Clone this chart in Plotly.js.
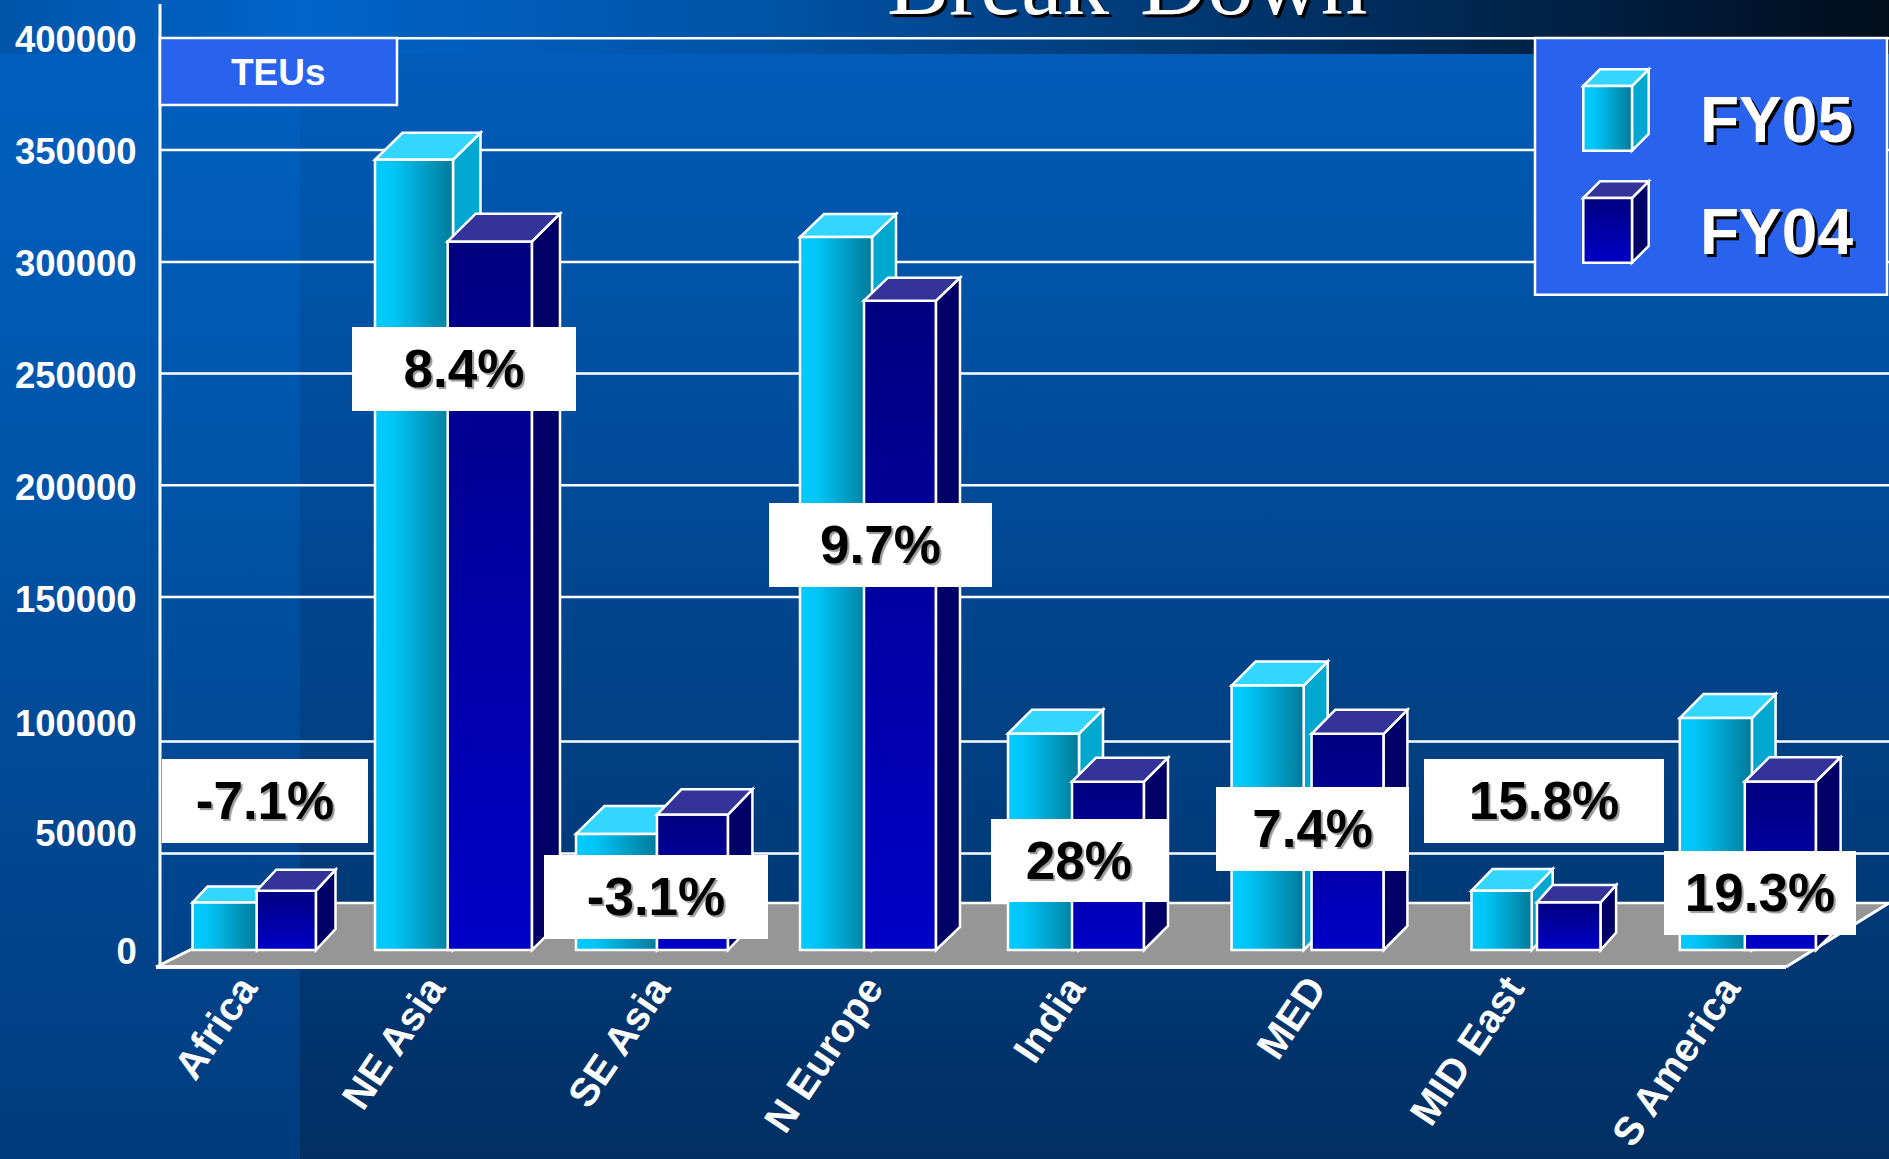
<!DOCTYPE html>
<html>
<head>
<meta charset="utf-8">
<script src="https://cdn.plot.ly/plotly-3.0.1.min.js"></script>
<style>
html,body{margin:0;padding:0;overflow:hidden;width:1889px;height:1159px;}
#bg{position:absolute;left:0;top:0;width:1889px;height:1159px;
background:
 linear-gradient(90deg,#0055aa 0px,#0064c8 300px,#0052a5 780px,#00264f 1480px,#000d1c 1889px) 0 0/1889px 54px no-repeat,
 linear-gradient(180deg,#0060c0 0px,#005ab4 300px,#004c99 700px,#003c7e 1159px) 0 0/300px 1159px no-repeat,
 linear-gradient(180deg,#005cb8 54px,#012f63 1159px);}
#chart{position:absolute;left:0;top:0;width:1889px;height:1159px;}
</style>
</head>
<body>
<div id="bg"></div>
<div id="chart"></div>
<script>
// ---- data ----
var categories = ['Africa','NE Asia','SE Asia','N Europe','India','MED','MID East','S America'];
var fy05 = [20800,346600,50900,312700,94900,116000,26000,101700];
var fy04 = [26000,310800,59400,284800,73800,94800,20900,73900];
var growth = ['-7.1%','8.4%','-3.1%','9.7%','28%','7.4%','15.8%','19.3%'];
var axisLabels = ['0','50000','100000','150000','200000','250000','300000','350000','400000'];

// ---- geometry of the picture (pixels) ----
var W=1889,H=1159,PLOT_L=150,PLOT_B=975,BASE=950,PX_PER_UNIT=912/400000;
function yv(py){return (BASE-py)/PX_PER_UNIT;}
var labelPy=[951.2,833,723.3,599,487,375.3,263.5,151.7,39];
var gridPy=[38.3,150,262,373.5,485.3,597,741.5,853.5];
var left05=[192.5,375,576,800,1008,1231.6,1471.5,1679.8];
var right05=[257,453,657,872,1079,1303.7,1531.7,1751.9];
var left04=[256.7,447.7,657,864,1072,1311.6,1537,1744.8];
var right04=[316,532,728,936,1144,1383.7,1600.7,1816];
var depth05=[[15,16],[27.5,27],[28.5,28],[24,23],[24,24],[24,24],[21,21.7],[23.7,24]];
var depth04=[[19.5,21],[28,27.7],[24.4,25.3],[24,23],[24,24],[23.7,24],[15.4,17.3],[24.6,24.3]];
var tickPx=[242,430,655,868,1070,1311,1509,1725];
var boxes=[[162,368,758,841.7],[352,576,326,409.6],[544,768,854,937.7],[768.6,991.5,502,585.5],
           [991.5,1167,818,901],[1215.8,1409,786,869.7],[1424,1664,758,841.7],[1664,1856,850,933.7]];

var C05={front:'#00ccff',side:'#00a8cf',top:'#33d6ff'};
var C04={front:'#000099',side:'#000066',top:'#333399'};
var WHITE='#ffffff',PANEL='#2962ec',FLOOR='#969696';

function poly(pts){return 'M'+pts.map(function(p){return p[0]+','+yv(p[1]);}).join('L')+'Z';}
function pathShape(pts,fill,w){return {type:'path',layer:'below',xref:'x',yref:'y',path:poly(pts),fillcolor:fill,line:{color:WHITE,width:w===undefined?2.5:w}};}
function rectShape(x0,x1,y0,y1,fill,w){return pathShape([[x0,y0],[x1,y0],[x1,y1],[x0,y1]],fill,w);}
function lineShape(x0,y0,x1,y1,w){return {type:'line',layer:'below',xref:'x',yref:'y',x0:x0,x1:x1,y0:yv(y0),y1:yv(y1),line:{color:WHITE,width:w}};}
function faces(l,r,topPy,basePy,d,c){
  return [
    pathShape([[r,basePy],[r+d[0],basePy-d[1]],[r+d[0],topPy-d[1]],[r,topPy]],c.side),
    pathShape([[l,topPy],[l+d[0],topPy-d[1]],[r+d[0],topPy-d[1]],[r,topPy]],c.top)
  ];
}

var shapes=[];
gridPy.forEach(function(p){shapes.push(lineShape(160,p,W,p,2.5));});
shapes.push(pathShape([[156,967],[1786,967],[1889,903],[285,903]],FLOOR,0));
shapes.push(lineShape(285,903,W,903,2.5));
shapes.push(lineShape(156,967,192,949,3));
shapes.push(lineShape(156,967,1786,967,4));
shapes.push(lineShape(1786,967,1889,903,3));
shapes.push(lineShape(160,4,160,967,3));
shapes.push(rectShape(160,397,38,105,PANEL,2.5));
shapes.push(rectShape(1535,1887,38,294.7,PANEL,2.5));
categories.forEach(function(_,i){
  faces(left05[i],right05[i],BASE-fy05[i]*PX_PER_UNIT,BASE,depth05[i],C05).forEach(function(s){shapes.push(s);});
});
categories.forEach(function(_,i){
  // FY04 faces sit in front of the FY05 bar
  faces(left04[i],right04[i],BASE-fy04[i]*PX_PER_UNIT,BASE,depth04[i],C04).forEach(function(s){s.layer='above';shapes.push(s);});
});
// legend cubes
var cubes=[[86,150.7,C05,'#00ccfe'],[198,262.7,C04,'#000099']];
cubes.forEach(function(c){
  faces(1583.3,1632,c[0],c[1],[16.7,16.7],c[2]).forEach(function(s){shapes.push(s);});
  shapes.push(rectShape(1583.3,1632,c[0],c[1],c[3],2.5));
});

var annotations=boxes.map(function(b,i){
  return {xref:'x',yref:'y',x:(b[0]+b[1])/2,y:yv((b[2]+b[3])/2),text:growth[i],showarrow:false,
    width:b[1]-b[0],height:b[3]-b[2],bgcolor:'#ffffff',borderpad:0,borderwidth:0,align:'center',valign:'middle',yshift:-1,
    font:{family:'Liberation Sans',size:53,weight:700,color:'#000000',shadow:'2px 2px 1px #999999'}};
});
function label(x,py,text,size,shadow){
  return {xref:'x',yref:'y',x:x,y:yv(py),text:text,showarrow:false,
    font:{family:'Liberation Sans',size:size,weight:700,color:'#ffffff',shadow:shadow||'none'}};
}
annotations.push(label(278,72,'TEUs',37));
annotations.push(label(1776,119.5,'FY05',64,'3px 3px 0 #000000'));
annotations.push(label(1776,231.5,'FY04',64,'3px 3px 0 #000000'));
annotations.push({xref:'x',yref:'paper',x:1127,y:1,yanchor:'bottom',yshift:-36,text:'Break-Down',showarrow:false,
  font:{family:'Liberation Serif',size:93,color:'#ffffff',shadow:'3px 3px 0 #000000'}});

function centers(a,b){return a.map(function(v,i){return (v+b[i])/2;});}
function widths(a,b){return a.map(function(v,i){return b[i]-v;});}
var traces=[
 {type:'bar',name:'FY05',x:centers(left05,right05),y:fy05,width:widths(left05,right05),text:categories,hoverinfo:'text+y+name',textposition:'none',
  marker:{color:C05.front,line:{color:WHITE,width:2.5}}},
 {type:'bar',name:'FY04',x:centers(left04,right04),y:fy04,width:widths(left04,right04),text:categories,hoverinfo:'text+y+name',textposition:'none',
  marker:{color:C04.front,line:{color:WHITE,width:2.5}}}
];
var layout={
  width:W,height:H,margin:{l:PLOT_L,r:0,t:0,b:H-PLOT_B,pad:0},
  paper_bgcolor:'rgba(0,0,0,0)',plot_bgcolor:'rgba(0,0,0,0)',
  barmode:'overlay',showlegend:false,
  xaxis:{range:[PLOT_L,W],tickmode:'array',tickvals:tickPx,ticktext:categories,tickangle:-56,showgrid:false,zeroline:false,showline:false,
    ticks:'',ticklabelstandoff:-19,tickfont:{family:'Liberation Sans',size:40,weight:700,color:'#ffffff'}},
  yaxis:{range:[yv(PLOT_B),yv(0)],tickmode:'array',tickvals:labelPy.map(yv),ticktext:axisLabels,showgrid:false,zeroline:false,showline:false,
    ticks:'outside',ticklen:5,tickcolor:'rgba(0,0,0,0)',tickfont:{family:'Liberation Sans',size:36.5,weight:700,color:'#ffffff'}},
  shapes:shapes,annotations:annotations
};
Plotly.newPlot('chart',traces,layout,{displayModeBar:false,responsive:false}).then(function(){
  var svg=document.querySelector('#chart .main-svg');
  var ns='http://www.w3.org/2000/svg';
  var defs=svg.querySelector('defs')||svg.insertBefore(document.createElementNS(ns,'defs'),svg.firstChild);
  function grad(id,x2,y2,stops){
    var g=document.createElementNS(ns,'linearGradient');
    g.setAttribute('id',id);g.setAttribute('x1','0');g.setAttribute('y1','0');g.setAttribute('x2',x2);g.setAttribute('y2',y2);
    stops.forEach(function(s){var e=document.createElementNS(ns,'stop');e.setAttribute('offset',s[0]);e.setAttribute('stop-color',s[1]);g.appendChild(e);});
    defs.appendChild(g);
  }
  grad('grad05','1','0',[[0,'#00ccff'],[0.25,'#00c4f5'],[1,'#007a99']]);
  grad('grad04','0','1',[[0,'#000080'],[1,'#0000c8']]);
  var groups=document.querySelectorAll('#chart .barlayer .trace');
  groups.forEach(function(g,i){
    g.querySelectorAll('.point path').forEach(function(p){p.style.fill='url(#'+(i===0?'grad05':'grad04')+')';});
  });
  document.querySelectorAll('#chart .shapelayer path').forEach(function(p){
    var f=p.style.fill.replace(/\s/g,'');
    if(f==='rgb(0,204,254)')p.style.fill='url(#grad05)';
    if(f==='rgb(0,0,153)')p.style.fill='url(#grad04)';
  });
});
</script>
</body>
</html>
